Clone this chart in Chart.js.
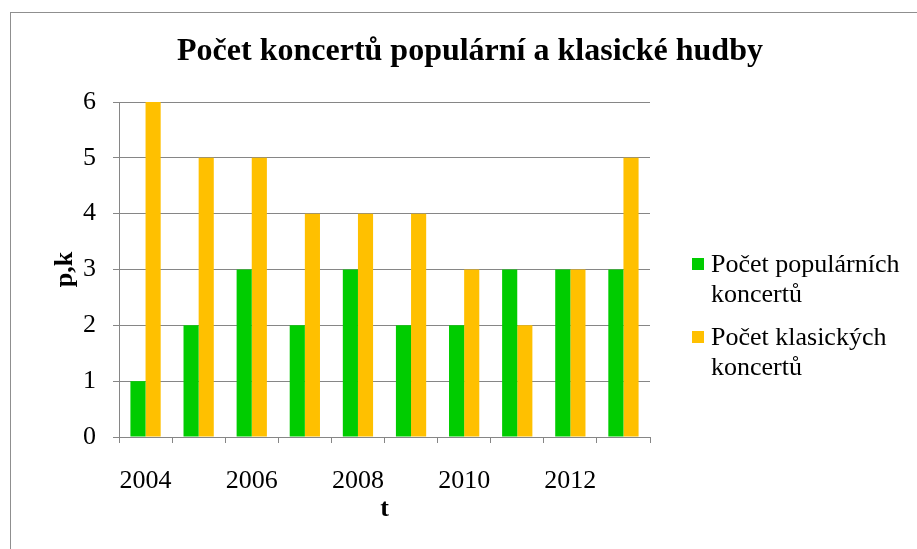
<!DOCTYPE html>
<html>
<head>
<meta charset="utf-8">
<script src="https://cdn.jsdelivr.net/npm/chart.js@4.4.0/dist/chart.umd.min.js"></script>
<style>
  html, body { margin: 0; padding: 0; background: #fff; }
  #wrap { width: 917px; height: 549px; position: relative; }
</style>
</head>
<body>
<div id="wrap"><canvas id="graphChart" width="917" height="549"></canvas></div>
<script>
const years = ['2004', '2005', '2006', '2007', '2008', '2009', '2010', '2011', '2012', '2013'];
const popularni = [1, 2, 3, 2, 3, 2, 2, 3, 3, 3];
const klasicke = [6, 5, 5, 4, 4, 4, 3, 2, 3, 5];
const yTicks = [0, 1, 2, 3, 4, 5, 6];

const serif = '"Liberation Serif", "Times New Roman", serif';
const gray = '#868686';

// frame, title and the two-line legend on the right
const decor = {
  id: 'decor',
  beforeDraw: chart => {
    const c = chart.ctx;
    c.save();
    c.fillStyle = '#fff';
    c.fillRect(0, 0, chart.width, chart.height);
    c.strokeStyle = '#8f8f8f';
    c.lineWidth = 1;
    c.strokeRect(10.5, 12.5, 1000, 1000);
    c.restore();
  },
  afterDraw: chart => {
    const c = chart.ctx;
    c.save();
    c.fillStyle = '#000';
    c.font = 'bold 32px ' + serif;
    c.textAlign = 'center';
    c.textBaseline = 'middle';
    c.fillText('Počet koncertů populární a klasické hudby', 470, 52);

    c.font = '26px ' + serif;
    c.textAlign = 'left';
    let y = 265;
    chart.data.datasets.forEach(ds => {
      c.fillStyle = ds.backgroundColor;
      c.fillRect(692, y - 7, 12, 12);
      c.fillStyle = '#000';
      ds.label.forEach(line => {
        c.fillText(line, 711, y);
        y += 30;
      });
      y += 13;
    });
    c.restore();
  }
};

const config = {
  type: 'bar',
  data: {
    labels: years,
    datasets: [
      {
        label: ['Počet populárních', 'koncertů'],
        data: popularni,
        backgroundColor: '#00CC00'
      },
      {
        label: ['Počet klasických', 'koncertů'],
        data: klasicke,
        backgroundColor: '#FFC000'
      }
    ]
  },
  options: {
    responsive: false,
    animation: false,
    layout: {
      padding: { left: 46, right: 267, top: 102, bottom: 20 }
    },
    datasets: {
      bar: { categoryPercentage: 0.57, barPercentage: 1.0 }
    },
    plugins: {
      legend: { display: false },
      tooltip: { enabled: false }
    },
    scales: {
      x: {
        afterFit: scale => { scale.height = 92; },
        grid: {
          offset: true,
          drawOnChartArea: false,
          drawTicks: true,
          tickLength: 6,
          color: gray
        },
        border: { color: gray },
        ticks: {
          autoSkip: false,
          maxRotation: 0,
          padding: 23,
          color: '#000',
          font: { family: serif, size: 26 },
          callback: (val, i) => (i % 2 === 0 ? years[i] : '')
        },
        title: {
          display: true,
          text: 't',
          color: '#000',
          font: { family: serif, size: 26, weight: 'bold' }
        }
      },
      y: {
        min: yTicks[0],
        max: yTicks[yTicks.length - 1],
        afterFit: scale => { scale.width = 73; },
        afterBuildTicks: scale => { scale.ticks = yTicks.map(v => ({ value: v })); },
        grid: {
          color: gray,
          tickLength: 6
        },
        border: { color: gray },
        ticks: {
          padding: 17,
          color: '#000',
          font: { family: serif, size: 26 }
        },
        title: {
          display: true,
          text: 'p,k',
          color: '#000',
          font: { family: serif, size: 26, weight: 'bold' }
        }
      }
    }
  },
  plugins: [decor]
};

const graphChart = new Chart(document.getElementById('graphChart').getContext('2d'), config);
</script>
</body>
</html>
